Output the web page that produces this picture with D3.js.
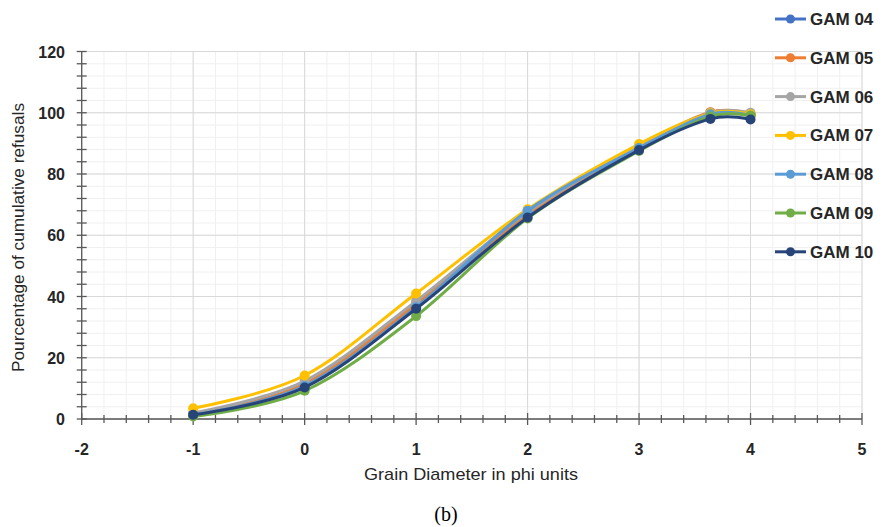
<!DOCTYPE html>
<html>
<head>
<meta charset="utf-8">
<script src="https://cdn.jsdelivr.net/npm/d3@7"></script>
<style>
  body { margin: 0; background: #fff; }
  text { font-family: "Liberation Sans", Arial, sans-serif; }
</style>
</head>
<body>
<script>
const width = 885;
const height = 527;

// phi values of the sieves
const phi = [-1, 0, 1, 2, 3, 3.64, 4];

const gam04 = [1.5, 11.0, 37.0, 67.0, 88.5, 100.0, 99.5];
const gam05 = [1.2, 11.5, 37.5, 67.0, 89.0, 100.2, 99.5];
const gam06 = [2.0, 12.4, 38.5, 67.5, 89.0, 100.0, 100.0];
const gam07 = [3.5, 14.2, 41.0, 68.5, 89.8, 99.8, 99.5];
const gam08 = [1.3, 10.8, 36.5, 68.0, 88.5, 99.5, 99.0];
const gam09 = [0.8, 9.2, 33.6, 65.5, 87.5, 98.8, 99.0];
const gam10 = [1.4, 10.3, 36.0, 65.8, 87.8, 98.0, 97.8];

const names = ["GAM 04", "GAM 05", "GAM 06", "GAM 07", "GAM 08", "GAM 09", "GAM 10"];
const colors = ["#4472C4", "#ED7D31", "#A5A5A5", "#FFC000", "#5B9BD5", "#70AD47", "#264478"];
const xTicks = [-2, -1, 0, 1, 2, 3, 4, 5];
const yTicks = [0, 20, 40, 60, 80, 100, 120];

const series = [gam04, gam05, gam06, gam07, gam08, gam09, gam10].map((vals, i) => ({
  name: names[i],
  color: colors[i],
  points: vals.map((v, j) => ({ x: phi[j], y: v }))
}));

const svg = d3.select("body").append("svg")
  .attr("width", width)
  .attr("height", height);

const x = d3.scaleLinear().domain([-2, 5]).range([81.7, 862]);
const y = d3.scaleLinear().domain([0, 120]).range([419, 51.5]);

// grid: minor first, then major
const grid = svg.append("g");
grid.selectAll(".vmin").data(d3.range(-2, 5.001, 0.2)).enter().append("line")
  .attr("x1", d => x(d)).attr("x2", d => x(d))
  .attr("y1", y(0)).attr("y2", y(120))
  .attr("stroke", "#f0f0f0").attr("stroke-width", 1);
grid.selectAll(".hmin").data(d3.range(0, 121, 4)).enter().append("line")
  .attr("x1", x(-2)).attr("x2", x(5))
  .attr("y1", d => y(d)).attr("y2", d => y(d))
  .attr("stroke", "#f0f0f0").attr("stroke-width", 1);
grid.selectAll(".vmaj").data(xTicks).enter().append("line")
  .attr("x1", d => x(d)).attr("x2", d => x(d))
  .attr("y1", y(0)).attr("y2", y(120))
  .attr("stroke", "#d9d9d9").attr("stroke-width", 1);
grid.selectAll(".hmaj").data(yTicks).enter().append("line")
  .attr("x1", x(-2)).attr("x2", x(5))
  .attr("y1", d => y(d)).attr("y2", d => y(d))
  .attr("stroke", "#d9d9d9").attr("stroke-width", 1);

// axes with crossing ticks
const axisColor = "#595959";
const ax = svg.append("g").attr("stroke", axisColor).attr("stroke-width", 1.3);
ax.append("line").attr("x1", x(-2)).attr("x2", x(5)).attr("y1", y(0)).attr("y2", y(0));
ax.append("line").attr("x1", x(-2)).attr("x2", x(-2)).attr("y1", y(0)).attr("y2", y(120));
ax.selectAll(".xt").data(d3.range(-2, 5.001, 0.2)).enter().append("line")
  .attr("x1", d => x(d)).attr("x2", d => x(d))
  .attr("y1", d => y(0) - (Math.abs(d - Math.round(d)) < 1e-6 ? 6 : 4))
  .attr("y2", d => y(0) + (Math.abs(d - Math.round(d)) < 1e-6 ? 6 : 4));
ax.selectAll(".yt").data(d3.range(0, 121, 4)).enter().append("line")
  .attr("y1", d => y(d)).attr("y2", d => y(d))
  .attr("x1", x(-2) - 5).attr("x2", x(-2) + 5);

// tick labels
svg.append("g").selectAll("text").data(xTicks).enter().append("text")
  .attr("x", d => x(d)).attr("y", 455)
  .attr("text-anchor", "middle")
  .attr("font-size", 16).attr("font-weight", "bold").attr("fill", "#262626")
  .text(d => d);
svg.append("g").selectAll("text").data(yTicks).enter().append("text")
  .attr("x", 65).attr("y", d => y(d) + 6)
  .attr("text-anchor", "end")
  .attr("font-size", 16).attr("font-weight", "bold").attr("fill", "#262626")
  .text(d => d);

// titles
svg.append("text")
  .attr("x", 471).attr("y", 480)
  .attr("text-anchor", "middle")
  .attr("font-size", 17).attr("fill", "#262626")
  .attr("textLength", 214).attr("lengthAdjust", "spacingAndGlyphs")
  .text("Grain  Diameter in phi units");
svg.append("text")
  .attr("transform", `translate(24,${(103 + 372) / 2}) rotate(-90)`)
  .attr("text-anchor", "middle")
  .attr("font-size", 17).attr("fill", "#262626")
  .attr("textLength", 269).attr("lengthAdjust", "spacingAndGlyphs")
  .text("Pourcentage of cumulative refusals");
svg.append("text")
  .attr("x", 446).attr("y", 521)
  .attr("text-anchor", "middle")
  .attr("font-size", 20).attr("fill", "#000")
  .style("font-family", "'Liberation Serif', 'Times New Roman', serif")
  .text("(b)");

// series
const line = d3.line()
  .x(d => x(d.x)).y(d => y(d.y))
  .curve(d3.curveCardinal.tension(0));

const sg = svg.append("g").selectAll("g").data(series).enter().append("g");
sg.append("path")
  .attr("d", d => line(d.points))
  .attr("fill", "none")
  .attr("stroke", d => d.color)
  .attr("stroke-width", 3)
  .attr("stroke-linejoin", "round");
sg.selectAll("circle").data(d => d.points.map(p => ({ ...p, color: d.color }))).enter().append("circle")
  .attr("cx", d => x(d.x)).attr("cy", d => y(d.y))
  .attr("r", 5)
  .attr("fill", d => d.color);

// legend
const lg = svg.append("g").selectAll("g").data(series).enter().append("g")
  .attr("transform", (d, i) => `translate(775,${19 + i * 38.8})`);
lg.append("line")
  .attr("x1", 0).attr("x2", 31)
  .attr("stroke", d => d.color).attr("stroke-width", 3);
lg.append("circle")
  .attr("cx", 15.5).attr("r", 4.5)
  .attr("fill", d => d.color);
lg.append("text")
  .attr("x", 35).attr("y", 6)
  .attr("font-size", 17).attr("font-weight", "bold").attr("fill", "#262626")
  .text(d => d.name);
</script>
</body>
</html>
